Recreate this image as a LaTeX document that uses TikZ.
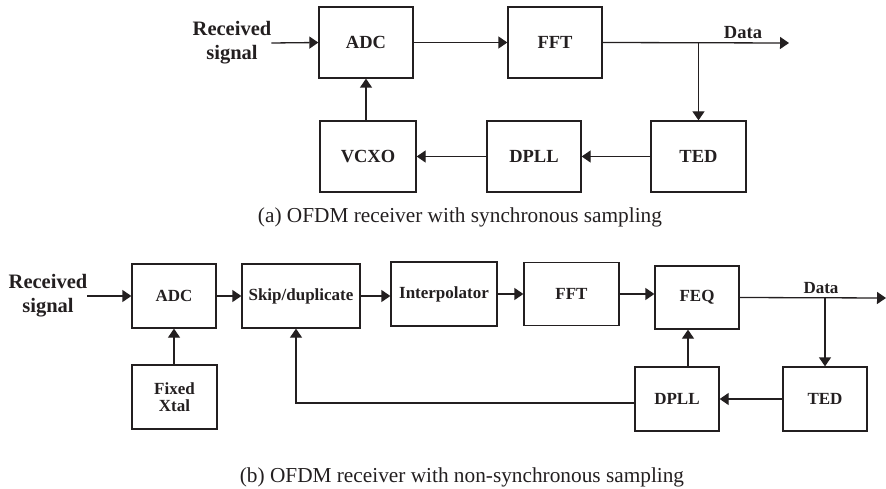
\documentclass[tikz,border=0pt]{standalone}
\usepackage{fontspec}
\setmainfont{Liberation Serif}
\usetikzlibrary{arrows.meta}

\begin{document}
\begin{tikzpicture}[x=1pt,y=-1pt,
  blk/.style={draw=ink,line width=1.3pt,text=ink,inner sep=0pt,font=\fontsize{18.5}{22}\selectfont\bfseries},
  blkb/.style={blk,font=\fontsize{17}{17}\selectfont\bfseries},
  lbl/.style={text=ink,inner sep=0pt,align=center,font=\fontsize{20.5}{24}\selectfont\bfseries},
  captxt/.style={text=ink,inner sep=0pt,font=\fontsize{21.3}{25}\selectfont},
  arr/.style={draw=ink,line width=1.3pt,-{Triangle[length=9pt,width=12pt]}},
  lin/.style={draw=ink,line width=1.3pt}]

\definecolor{ink}{RGB}{35,31,32};

\useasboundingbox (0,0) rectangle (886,489);

% (a) synchronous sampling
\node[blk,minimum width=94pt,minimum height=71pt] (adcA)  at (366,42.5)  {ADC};
\node[blk,minimum width=94pt,minimum height=71pt] (fftA)  at (555,42.5)  {FFT};
\node[blk,minimum width=96pt,minimum height=71pt] (vcxoA) at (368,156.5) {VCXO};
\node[blk,minimum width=94pt,minimum height=71pt] (dpllA) at (534,156.5) {DPLL};
\node[blk,minimum width=95pt,minimum height=71pt] (tedA)  at (698.5,156.5) {TED};

\node[lbl] (recvA) at (232,43) {Received\\signal};
\node[lbl,font=\fontsize{18.5}{22}\selectfont\bfseries] (dataA) at (743,33) {Data};
\coordinate (outA) at (789,43);

\draw[arr] (recvA.east) -- (adcA.west);
\draw[arr] (adcA.east) -- (fftA.west);
\draw[arr] (fftA.east) -- (outA);
\draw[arr] (tedA.north |- fftA.east) -- (tedA.north);
\draw[arr] (tedA.west) -- (dpllA.east);
\draw[arr] (dpllA.west) -- (vcxoA.east);
\draw[arr] (adcA.south |- vcxoA.north) -- (adcA.south);

\node[captxt] (capA) at (460,217) {(a) OFDM receiver with synchronous sampling};

% (b) non-synchronous sampling
\node[blkb,minimum width=84pt,minimum height=64pt] (adcB)    at (174,296)   {ADC};
\node[blkb,minimum width=118pt,minimum height=64pt] (skipB)  at (301,296)   {Skip/duplicate};
\node[blkb,minimum width=106pt,minimum height=64pt] (interpB) at (444,294) {Interpolator};
\node[blkb,minimum width=95pt,minimum height=63pt] (fftB)    at (571.5,294) {FFT};
\node[blkb,minimum width=84pt,minimum height=63pt] (feqB)    at (697,297.5) {FEQ};
\node[blkb,minimum width=85pt,minimum height=64pt,align=center] (xtalB) at (174.5,397) {Fixed\\Xtal};
\node[blkb,minimum width=84pt,minimum height=64pt] (dpllB)   at (677,399)   {DPLL};
\node[blkb,minimum width=84pt,minimum height=64pt] (tedB)    at (825,399)   {TED};

\node[lbl] (recvB) at (48,296) {Received\\signal};
\node[lbl,font=\fontsize{17}{20}\selectfont\bfseries] (dataB) at (821,288) {Data};
\coordinate (outB) at (886,298);

\draw[arr] (recvB.east) -- (adcB.west);
\draw[arr] (adcB.east) -- (adcB.east -| skipB.west);
\draw[arr] (skipB.east) -- (skipB.east -| interpB.west);
\draw[arr] (interpB.east) -- (interpB.east -| fftB.west);
\draw[arr] (fftB.east) -- (fftB.east -| feqB.west);
\draw[arr] (feqB.east) -- (outB);
\draw[arr] (tedB.north |- feqB.east) -- (tedB.north);
\draw[arr] (tedB.west) -- (dpllB.east);
\draw[arr] ([xshift=11pt]dpllB.north) -- ([xshift=11pt]dpllB.north |- feqB.south);
\draw[arr] ([yshift=-4pt]dpllB.west) -| ([xshift=-5pt]skipB.south);
\draw[arr] (adcB.south |- xtalB.north) -- (adcB.south);

\node[captxt] (capB) at (462,477) {(b) OFDM receiver with non-synchronous sampling};
\end{tikzpicture}
\end{document}
